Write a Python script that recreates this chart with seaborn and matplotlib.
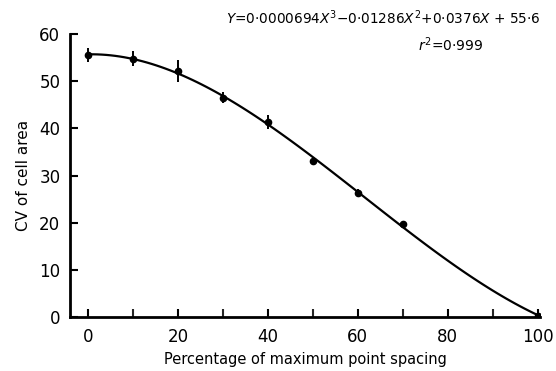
import matplotlib
matplotlib.use("Agg")
import matplotlib.pyplot as plt
import seaborn as sns
import pandas as pd
import numpy as np

spacing = [0, 10, 20, 30, 40, 50, 60, 70, 100]
cv = [55.5, 54.8, 52.2, 46.5, 41.3, 33.0, 26.3, 19.8, 0.3]
err = [1.5, 1.6, 2.4, 1.2, 1.5, 0.7, 0.8, 0.5, 0.3]

sns.set_theme(style="ticks")
plt.rcParams['font.family'] = ['DejaVu Sans']
plt.rcParams['text.color'] = 'black'
plt.rcParams['axes.labelcolor'] = 'black'
plt.rcParams['mathtext.fontset'] = 'dejavusans'

df = pd.DataFrame({"x": spacing, "y": cv, "e": err})

fig = plt.figure(figsize=(5.56, 3.71), dpi=100)
ax = fig.add_axes([0.126, 0.1456, 0.845, 0.7625])

sns.regplot(data=df, x="x", y="y", order=3, ci=None, scatter=False,
            line_kws=dict(color="black", lw=1.6), truncate=True, ax=ax)
ax.errorbar(df["x"], df["y"], yerr=df["e"], fmt="o", color="black",
            ms=4.5, elinewidth=1.4, capsize=0, zorder=5)

ax.set_xlim(-4, 100.5)
ax.set_ylim(0, 60)
ax.set_xticks([0, 20, 40, 60, 80, 100])
ax.set_xticks([10, 30, 50, 70, 90], minor=True)
ax.set_yticks([0, 10, 20, 30, 40, 50, 60])
ax.tick_params(axis="both", direction="in", length=6, width=1.5,
               labelsize=12, colors="black")
ax.tick_params(axis="x", which="minor", direction="in", length=6, width=1.5)
ax.tick_params(axis="x", pad=8)
ax.tick_params(axis="y", pad=7)
for s in ["top", "right"]:
    ax.spines[s].set_visible(False)
for s in ["left", "bottom"]:
    ax.spines[s].set_linewidth(2)
    ax.spines[s].set_color("black")

ax.set_xlabel("Percentage of maximum point spacing", fontsize=10.5, labelpad=4)
ax.set_ylabel("CV of cell area", fontsize=11, labelpad=6)

fig.text(0.69, 0.952, r"$Y$=0$\cdot$0000694$X^3$$-$0$\cdot$01286$X^2$+0$\cdot$0376$X$ + 55$\cdot$6",
         ha="center", va="center", fontsize=9.8)
fig.text(0.81, 0.88, r"$r^2$=0$\cdot$999", ha="center", va="center", fontsize=10)

fig.savefig("out.png", dpi=100)
